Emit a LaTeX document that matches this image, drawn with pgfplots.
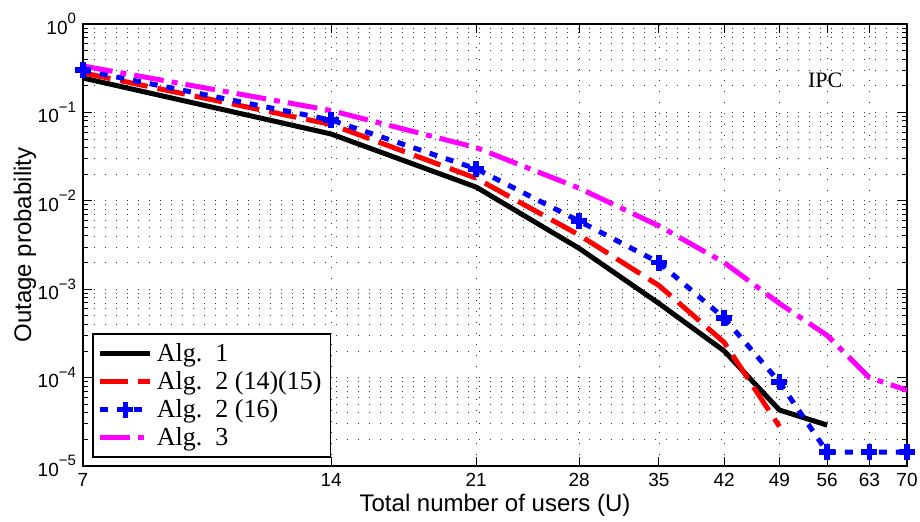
\documentclass[border=0pt]{standalone}
\usepackage{fontspec}
\setmainfont{Liberation Sans}
\newfontfamily\tnr{Liberation Serif}
\usepackage{pgfplots}
\pgfplotsset{compat=1.18}
\definecolor{mag}{RGB}{255,0,255}
\newcommand{\myexp}[1]{\raisebox{0.55em}{\fontsize{7.5}{8}\selectfont #1}}
\begin{document}
\begin{tikzpicture}
\begin{axis}[name=ax, scale only axis, width=412pt, height=221pt,
  xmode=log, ymode=log, xmin=7, xmax=70, ymin=1e-5, ymax=1,
  xtick={7,14,21,28,35,42,49,56,63,70},
  xticklabels={7,14,21,28,35,42,49,56,63,70},
  xminorticks=false,
  ytick={1e-5,1e-4,1e-3,1e-2,1e-1,1},
  yticklabels={10\myexp{−5},10\myexp{−4},10\myexp{−3},10\myexp{−2},10\myexp{−1},10\myexp{0}},
  tick label style={font=\fontsize{9.5}{11}\selectfont},
  ymajorgrids, yminorgrids, xmajorgrids,
  major grid style={black!80, dash pattern=on 0.6pt off 4.9pt},
  minor grid style={black!80, dash pattern=on 0.6pt off 4.9pt},
  axis line style={line width=0.9pt},
  tick style={black, line width=0.5pt},
  major tick length=4.5pt, minor tick length=2.5pt,
  xlabel={Total number of users (U)},
  ylabel={Outage probability},
  label style={font=\fontsize{12}{14}\selectfont},
  xlabel style={at={(axis description cs:0.5,-0.088)}, anchor=center},
  ylabel style={at={(axis description cs:-0.0704,0.5)}, anchor=center},
  legend style={at={(0.011,0.018)}, anchor=south west, font=\tnr\fontsize{13}{14}\selectfont, draw=black, line width=0.8pt, row sep=-0.5pt, inner sep=2.5pt},
  legend cell align=left,
  legend image code/.code={\draw[mark repeat=2,mark phase=2,#1] plot coordinates {(0pt,0pt) (12.5pt,0pt) (25pt,0pt)};},
]
\addplot[black, line width=2.5pt] coordinates {
(7,0.245) (14,0.057) (21,0.0143) (28,0.0029) (35,0.00069) (42,0.0002) (49,0.000043) (56,0.000029)};
\addlegendentry{Alg.~~1}
\addplot[red, line width=2.5pt, dash pattern=on 14pt off 5pt] coordinates {
(7,0.28) (14,0.073) (21,0.018) (28,0.0041) (35,0.0011) (42,0.00025) (49,0.000028)};
\addlegendentry{Alg.~~2 (14)(15)}
\addplot[blue, line width=2.5pt, dash pattern=on 4pt off 4.5pt, mark=+, mark size=4pt, mark options={solid, line width=2.8pt}] coordinates {
(7,0.30) (14,0.082) (21,0.023) (28,0.0059) (35,0.0020) (42,0.00047) (49,0.000089) (56,0.0000144) (63,0.0000144) (70,0.0000144)};
\addlegendentry{Alg.~~2 (16)}
\addplot[mag, line width=2.5pt, dash pattern=on 15pt off 4pt on 3pt off 4pt] coordinates {
(7,0.335) (14,0.105) (21,0.040) (28,0.0139) (35,0.0052) (42,0.0020) (49,0.00069) (56,0.00030) (63,0.0001) (70,0.000072)};
\addlegendentry{Alg.~~3}
\node[font=\tnr\fontsize{11}{13}\selectfont] at (axis cs:55.7,0.233) {IPC};
\end{axis}
\pgfresetboundingbox
\path ([shift={(-41.5pt,-27.5pt)}]ax.south west) rectangle ([shift={(6.5pt,12pt)}]ax.north east);
\end{tikzpicture}
\end{document}
